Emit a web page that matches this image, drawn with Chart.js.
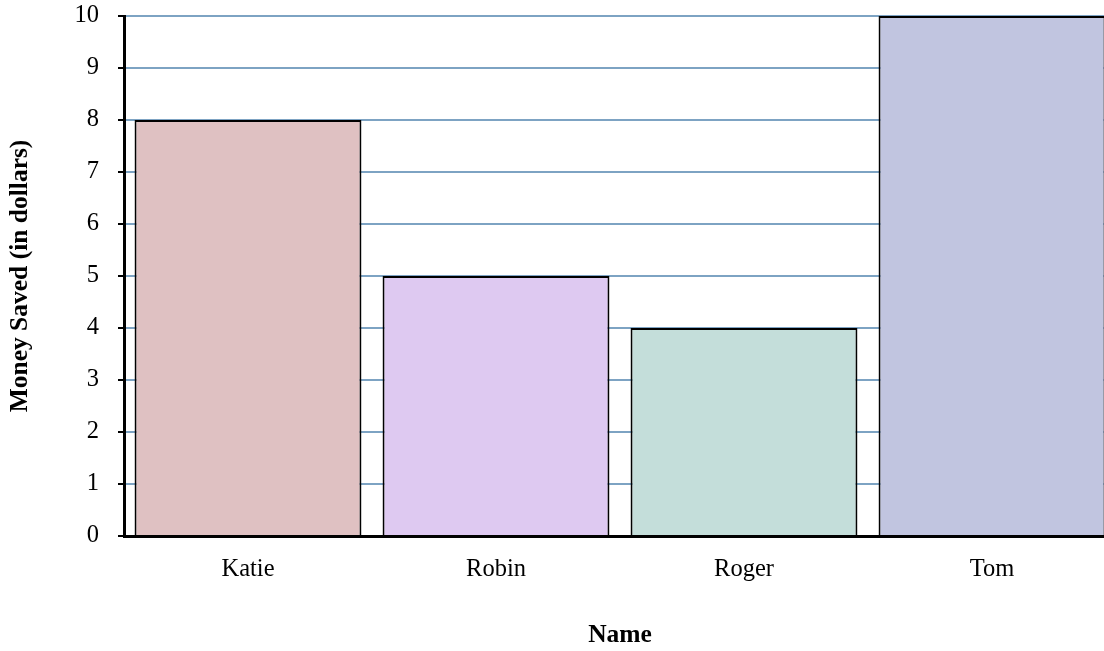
<!DOCTYPE html>
<html>
<head>
<meta charset="utf-8">
<script src="https://cdn.jsdelivr.net/npm/chart.js@4"></script>
<style>
  html, body { margin: 0; padding: 0; overflow: hidden; background: #fff; }
</style>
</head>
<body>
<canvas id="savingsChart" width="1120" height="651"></canvas>
<script>
// data
const names = ['Katie', 'Robin', 'Roger', 'Tom'];
const saved = [8, 5, 4, 10];
const barColors = ['#DFC1C2', '#DEC9F1', '#C4DEDA', '#C1C5E0'];

const serif = "'Liberation Serif', 'Times New Roman', serif";

new Chart(document.getElementById('savingsChart'), {
    type: 'bar',
    data: {
        labels: names,
        datasets: [{
            data: saved,
            backgroundColor: barColors,
            borderColor: '#000',
            borderWidth: 2,
            categoryPercentage: 1,
            barPercentage: 0.915
        }]
    },
    options: {
        responsive: false,
        animation: false,
        layout: { padding: { top: 16, right: 4, bottom: 0, left: 0 } },
        plugins: { legend: { display: false }, tooltip: { enabled: false } },
        scales: {
            x: {
                z: 1,
                grid: { display: false, drawTicks: false },
                border: { color: '#000', width: 3 },
                ticks: { color: '#000', font: { family: serif, size: 24.5 }, padding: 19 },
                title: {
                    display: true, text: 'Name', color: '#000',
                    font: { family: serif, size: 25.5, weight: 'bold' },
                    padding: { top: 10, bottom: 0 }
                },
                afterFit: (s) => { s.height = 115; }
            },
            y: {
                min: 0, max: 10,
                ticks: { stepSize: 1, color: '#000', font: { family: serif, size: 24.5 }, padding: 19 },
                grid: { color: '#7DA3C3', lineWidth: 2, tickLength: 6, tickColor: '#000', tickWidth: 2 },
                border: { color: '#000', width: 3 },
                title: {
                    display: true, text: 'Money Saved (in dollars)', color: '#000',
                    font: { family: serif, size: 25.5, weight: 'bold' },
                    padding: { top: 5, bottom: 10 }
                },
                afterFit: (s) => {
                    s.width = 124;
                    s.paddingTop = 0; // let layout padding set the top edge
                }
            }
        }
    }
});
</script>
</body>
</html>
